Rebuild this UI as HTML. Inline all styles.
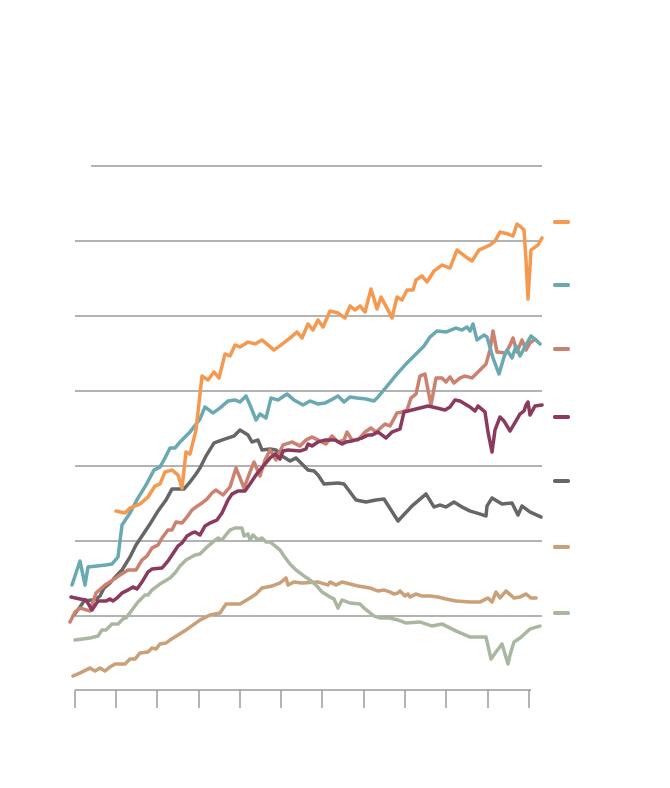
<!DOCTYPE html>
<html><head><meta charset="utf-8"><style>html,body{margin:0;padding:0;background:#fff}svg{display:block}</style></head>
<body>
<svg width="670" height="788" viewBox="0 0 670 788" xmlns="http://www.w3.org/2000/svg">
<g stroke="#9a9a9a" stroke-width="1.5" fill="none">
<line x1="91" y1="166" x2="542" y2="166"/>
<line x1="75" y1="241" x2="542" y2="241"/>
<line x1="75" y1="316" x2="542" y2="316"/>
<line x1="75" y1="391" x2="542" y2="391"/>
<line x1="75" y1="466" x2="542" y2="466"/>
<line x1="75" y1="541" x2="542" y2="541"/>
<line x1="75" y1="616" x2="542" y2="616"/>
<line x1="75" y1="690" x2="531" y2="690"/>
<path d="M75 690V708M116 690V708M157 690V708M199 690V708M240 690V708M281 690V708M322 690V708M364 690V708M405 690V708M446 690V708M488 690V708M529 690V708"/>
</g>
<g fill="none" stroke-width="3.5" stroke-linejoin="round" stroke-linecap="round">
<polyline stroke="#c9a077" points="73,676 80,673 86,670 90,668 95,671 100,668 105,671 110,667 115,664 125,664 130,659 135,659 140,653 148,652 152,648 156,649 160,644 166,643 170,640 178,635 186,630 193,625 200,620 210,615 220,613 226,604 240,604 250,598 256,594 262,588 272,586 280,583 286,578 288,585 294,582 302,583 318,582 328,585 330,582 336,585 342,582 350,584 358,586 364,587 370,588 378,591 384,590 390,592 394,594 398,593 400,591 405,596 408,594 410,597 416,594 422,596 430,596 438,597 446,599 456,601 470,602 480,602 488,598 492,602 496,592 500,598 506,591 514,598 520,597 526,594 531,598 536,598"/>
<polyline stroke="#a9b7a0" points="75,640 90,638 98,636 102,630 106,630 112,624 118,624 124,618 126,618 132,610 138,602 145,595 148,595 152,590 160,584 170,578 175,573 180,566 186,560 195,555 200,554 206,548 214,541 218,538 222,540 225,536 230,530 235,528 242,528 244,536 248,534 250,540 253,535 258,540 262,538 266,542 270,542 274,545 280,550 284,556 290,564 296,570 304,576 310,580 316,585 322,592 330,597 334,599 338,608 342,600 350,603 360,604 364,608 374,616 380,618 390,618 398,620 406,623 420,622 432,626 442,624 456,631 470,637 486,637 491,659 496,652 502,644 508,664 510,655 514,642 520,638 530,629 540,626"/>
<polyline stroke="#666666" points="73,616 80,607 84,601 92,600 96,599 100,596 104,588 110,583 118,574 122,570 130,557 136,545 144,533 150,524 158,511 166,500 172,489 184,489 190,482 196,474 200,468 206,456 214,443 222,440 228,438 234,436 240,430 248,435 252,442 258,440 262,450 270,449 276,450 282,456 290,461 296,458 300,462 308,470 314,471 318,475 324,484 338,483 344,484 356,500 366,502 376,500 384,499 398,521 412,506 426,494 434,507 440,505 446,507 454,502 462,507 470,511 480,514 486,516 487,506 492,498 502,504 512,503 518,515 522,506 530,512 541,517"/>
<polyline stroke="#cc8170" points="70,622 75,612 80,608 90,611 96,593 105,585 113,580 120,575 128,570 136,570 142,560 147,556 152,548 158,545 162,538 168,530 172,530 176,522 182,523 187,517 192,510 196,507 202,503 207,499 212,493 216,490 223,495 230,487 236,468 240,478 244,488 250,472 254,462 260,476 265,460 270,450 276,460 283,445 292,442 300,446 306,440 312,437 318,440 326,444 332,436 338,442 344,440 347,432 352,440 358,440 365,432 371,428 376,432 385,424 390,426 397,413 402,412 407,410 411,398 416,394 420,376 425,374 428,390 431,405 436,378 442,378 446,382 450,377 454,383 460,378 465,376 472,378 478,372 486,364 490,350 493,331 497,352 506,353 510,345 513,338 517,352 522,340 526,350 530,343 534,340"/>
<polyline stroke="#8b3a5e" points="71,597 80,599 86,600 92,610 98,601 106,601 110,599 113,601 117,598 122,593 128,590 133,587 137,589 142,582 148,572 152,569 162,568 168,561 172,555 178,546 182,543 187,536 192,533 195,532 200,535 205,526 210,523 217,520 222,513 228,500 232,494 238,491 245,491 250,484 256,475 260,470 265,464 270,458 275,454 280,459 283,451 288,450 300,451 306,449 308,444 312,446 318,442 325,440 335,440 342,444 346,442 352,441 362,438 368,435 372,435 378,432 382,435 386,438 392,432 400,429 404,412 420,408 428,406 437,408 445,410 450,407 455,400 460,401 470,407 475,411 478,406 485,412 488,432 492,452 495,430 500,417 504,421 510,431 513,426 520,414 524,411 526,405 528,402 530,415 535,406 542,405"/>
<polyline stroke="#6aa9b2" points="72,585 80,561 85,585 88,567 106,565 112,564 118,557 122,525 130,513 138,498 146,485 154,470 160,467 165,458 170,448 175,448 180,442 190,432 200,419 205,407 213,413 220,408 228,401 235,400 240,402 246,396 250,405 256,420 260,414 266,418 271,398 278,400 287,394 294,400 303,405 310,401 318,404 325,403 331,400 338,396 344,402 350,397 357,398 366,399 374,401 378,397 388,385 397,374 406,364 414,356 424,346 430,337 437,331 446,332 456,328 462,330 467,327 470,331 473,324 477,340 484,335 487,337 493,358 499,374 504,357 507,350 512,358 516,346 520,356 527,343 531,336 536,340 540,344"/>
<polyline stroke="#f4994f" points="116,511 125,513 130,508 140,504 148,497 155,486 160,484 165,472 172,470 178,475 182,488 186,452 190,454 196,430 202,376 208,380 214,372 219,378 225,354 230,356 235,345 240,347 248,342 255,344 262,340 268,345 274,350 281,345 290,338 297,332 302,338 308,324 313,330 318,320 323,327 330,311 338,313 345,318 350,306 355,310 360,306 365,312 371,289 377,309 381,297 388,310 392,318 397,297 402,300 407,290 413,290 416,280 422,276 427,282 434,271 442,265 450,268 457,250 466,257 472,261 479,250 490,245 495,241 500,232 508,234 513,236 517,224 521,227 524,230 526,260 528,299 531,250 538,245 542,238"/>
</g>
<g stroke-width="4" stroke-linecap="round">
<line x1="555" y1="222" x2="568" y2="222" stroke="#f4994f"/>
<line x1="555" y1="285" x2="568" y2="285" stroke="#6aa9b2"/>
<line x1="555" y1="349" x2="568" y2="349" stroke="#cc8170"/>
<line x1="555" y1="417" x2="568" y2="417" stroke="#8b3a5e"/>
<line x1="555" y1="481" x2="568" y2="481" stroke="#666666"/>
<line x1="555" y1="547" x2="568" y2="547" stroke="#c9a077"/>
<line x1="555" y1="613" x2="568" y2="613" stroke="#a9b7a0"/>
</g>
</svg>
</body></html>
